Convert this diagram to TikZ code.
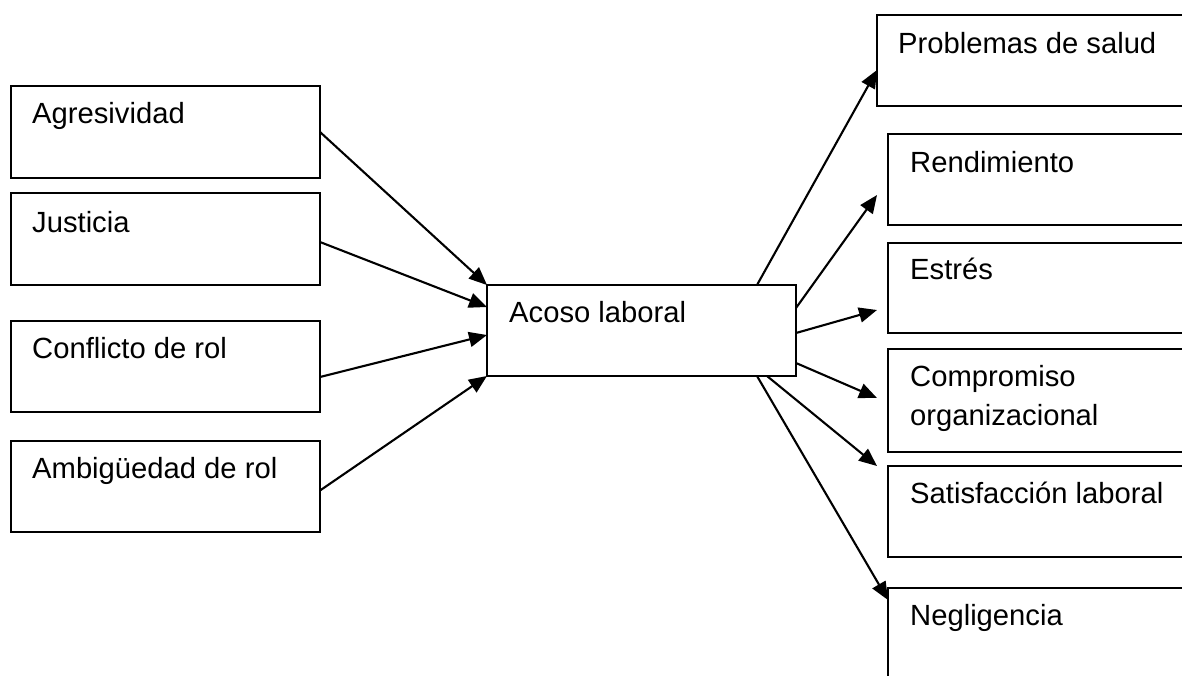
\documentclass[tikz,border=0pt]{standalone}
\usepackage{fontspec}
\setmainfont{Liberation Sans}
\usetikzlibrary{arrows.meta}
\begin{document}
\begin{tikzpicture}[x=1pt,y=-1pt,
  box/.style={draw,line width=1.4pt,rectangle,anchor=north west,inner sep=0pt,outer sep=0pt},
  lbl/.style={anchor=base west,inner sep=0pt,font=\fontsize{29.2}{39}\selectfont,align=left},
  conn/.style={line width=2.1pt,-{Triangle[length=18pt,width=15pt]}}]
\useasboundingbox (0,0) rectangle (1182,675);
\clip (0,0) rectangle (1182,675);
% left boxes
\node[box,minimum width=309pt,minimum height=92pt] (agr) at (11,86) {};
\node[box,minimum width=309pt,minimum height=92pt] (jus) at (11,193) {};
\node[box,minimum width=309pt,minimum height=91pt] (conf) at (11,321) {};
\node[box,minimum width=309pt,minimum height=91pt] (amb) at (11,441) {};
% centre
\node[box,minimum width=309pt,minimum height=91pt] (acoso) at (487,285) {};
% right boxes
\node[box,minimum width=330pt,minimum height=91pt] (prob) at (877,15) {};
\node[box,minimum width=330pt,minimum height=91pt] (rend) at (888,134) {};
\node[box,minimum width=330pt,minimum height=90pt] (estr) at (888,243) {};
\node[box,minimum width=330pt,minimum height=103pt] (comp) at (888,349) {};
\node[box,minimum width=330pt,minimum height=91pt] (satis) at (888,466) {};
\node[box,minimum width=330pt,minimum height=120pt] (negl) at (888,588) {};
% labels
\node[lbl] (agr-t) at (32,123) {Agresividad};
\node[lbl] (jus-t) at (32,232) {Justicia};
\node[lbl] (conf-t) at (32,358) {Conflicto de rol};
\node[lbl] (amb-t) at (32,478) {Ambigüedad de rol};
\node[lbl] (acoso-t) at (509,322) {Acoso laboral};
\node[lbl] (prob-t) at (898,53) {Problemas de salud};
\node[lbl] (rend-t) at (910,172) {Rendimiento};
\node[lbl] (estr-t) at (910,279) {Estrés};
\node[lbl] (comp-t) at (910,425) {Compromiso\\organizacional};
\node[lbl] (satis-t) at (910,503) {Satisfacción laboral};
\node[lbl] (negl-t) at (910,625) {Negligencia};
% connectors in
\draw[conn] (agr.east) -- (acoso.north west);
\draw[conn] ([yshift=-3pt]jus.east) -- ([yshift=23.5pt]acoso.west);
\draw[conn] ([yshift=-10.5pt]conf.east) -- ([yshift=-4.5pt]acoso.west);
\draw[conn] ([yshift=-4pt]amb.east) -- (acoso.south west);
% connectors out
\draw[conn] ([xshift=115.5pt]acoso.north) -- ([yshift=-9.5pt]prob.west);
\draw[conn] ([yshift=22.5pt]acoso.east) -- ([xshift=-11pt,yshift=-15.5pt]rend.west);
\draw[conn] ([yshift=-2.5pt]acoso.east) -- ([xshift=-11pt,yshift=-22pt]estr.west);
\draw[conn] ([yshift=-32.5pt]acoso.east) -- ([xshift=-11pt,yshift=2.5pt]comp.west);
\draw[conn] ([xshift=125.5pt]acoso.south) -- ([xshift=-11pt]satis.north west);
\draw[conn] ([xshift=115.5pt]acoso.south) -- ([yshift=-12pt]negl.north west);
\end{tikzpicture}
\end{document}
